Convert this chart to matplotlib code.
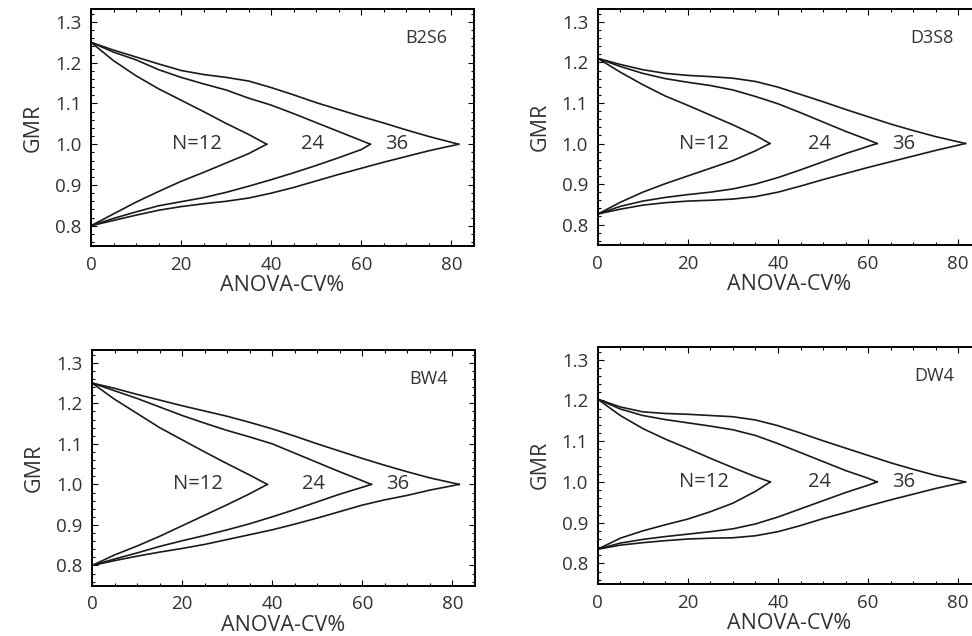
import numpy as np
import matplotlib.pyplot as plt
from matplotlib.ticker import MultipleLocator

# ===========================
# Datos (CV%, GMR) por panel y tamaño N
# ===========================
n_labels = ["N=12", "24", "36"]

# B2S6
b2s6_cv = [[0, 5, 10, 15, 20, 25, 30, 35, 39.0],
           [0, 5, 10, 15, 20, 25, 30, 35, 40, 45, 50, 55, 60, 62.0],
           [0, 5, 10, 15, 20, 25, 30, 35, 40, 45, 50, 55, 60, 65, 70, 75, 81.6]]
b2s6_up = [[1.25, 1.205, 1.168, 1.136, 1.108, 1.080, 1.051, 1.024, 1.0],
           [1.25, 1.226, 1.207, 1.183, 1.164, 1.148, 1.133, 1.113, 1.096, 1.075, 1.053, 1.031, 1.009, 1.0],
           [1.25, 1.231, 1.214, 1.197, 1.181, 1.171, 1.164, 1.155, 1.139, 1.121, 1.102, 1.085, 1.068, 1.052, 1.035, 1.019, 1.0]]
b2s6_lo = [[0.80, 0.829, 0.858, 0.884, 0.909, 0.931, 0.954, 0.977, 1.0],
           [0.80, 0.818, 0.834, 0.849, 0.859, 0.869, 0.882, 0.897, 0.913, 0.930, 0.948, 0.967, 0.987, 1.0],
           [0.80, 0.813, 0.826, 0.838, 0.847, 0.854, 0.860, 0.868, 0.880, 0.894, 0.910, 0.926, 0.941, 0.956, 0.970, 0.984, 1.0]]

# D3S8
d3s8_cv = [[0, 5, 10, 15, 20, 25, 30, 35, 38.2],
           [0, 5, 10, 15, 20, 25, 30, 35, 40, 45, 50, 55, 60, 62.0],
           [0, 5, 10, 15, 20, 25, 30, 35, 40, 45, 50, 55, 60, 65, 70, 75, 81.6]]
d3s8_up = [[1.21, 1.176, 1.145, 1.117, 1.094, 1.070, 1.046, 1.020, 1.0],
           [1.21, 1.190, 1.173, 1.160, 1.151, 1.143, 1.132, 1.116, 1.098, 1.076, 1.053, 1.030, 1.009, 1.0],
           [1.21, 1.195, 1.182, 1.173, 1.168, 1.165, 1.161, 1.153, 1.139, 1.121, 1.103, 1.084, 1.066, 1.048, 1.032, 1.017, 1.0]]
d3s8_lo = [[0.826, 0.855, 0.880, 0.901, 0.920, 0.939, 0.958, 0.982, 1.0],
           [0.826, 0.845, 0.858, 0.867, 0.874, 0.880, 0.888, 0.900, 0.916, 0.935, 0.955, 0.975, 0.993, 1.0],
           [0.826, 0.838, 0.848, 0.854, 0.858, 0.860, 0.863, 0.869, 0.880, 0.895, 0.911, 0.926, 0.941, 0.955, 0.969, 0.983, 1.0]]

# BW4
bw4_cv = [[0, 5, 10, 15, 20, 25, 30, 35, 38.9],
          [0, 5, 10, 15, 20, 25, 30, 35, 40, 45, 50, 55, 60, 62.0],
          [0, 5, 10, 15, 20, 25, 30, 35, 40, 45, 50, 55, 60, 65, 70, 75, 81.5]]
bw4_up = [[1.25, 1.210, 1.175, 1.140, 1.110, 1.080, 1.051, 1.023, 1.0],
          [1.25, 1.231, 1.212, 1.191, 1.170, 1.151, 1.133, 1.117, 1.100, 1.077, 1.054, 1.031, 1.009, 1.0],
          [1.25, 1.237, 1.222, 1.208, 1.194, 1.181, 1.168, 1.153, 1.137, 1.119, 1.100, 1.082, 1.064, 1.047, 1.031, 1.016, 1.0]]
bw4_lo = [[0.80, 0.826, 0.848, 0.872, 0.898, 0.924, 0.950, 0.977, 1.0],
          [0.80, 0.816, 0.831, 0.847, 0.861, 0.874, 0.888, 0.903, 0.920, 0.938, 0.957, 0.976, 0.993, 1.0],
          [0.80, 0.812, 0.823, 0.833, 0.842, 0.852, 0.864, 0.876, 0.888, 0.902, 0.917, 0.933, 0.949, 0.962, 0.973, 0.986, 1.0]]

# DW4
dw4_cv = [[0, 5, 10, 15, 20, 25, 30, 35, 38.3],
          [0, 5, 10, 15, 20, 25, 30, 35, 40, 45, 50, 55, 60, 62.0],
          [0, 5, 10, 15, 20, 25, 30, 35, 40, 45, 50, 55, 60, 65, 70, 75, 81.6]]
dw4_up = [[1.203, 1.163, 1.131, 1.105, 1.082, 1.058, 1.035, 1.013, 1.0],
          [1.203, 1.179, 1.163, 1.153, 1.145, 1.137, 1.128, 1.114, 1.094, 1.072, 1.050, 1.028, 1.009, 1.0],
          [1.203, 1.184, 1.172, 1.168, 1.166, 1.163, 1.160, 1.152, 1.138, 1.120, 1.101, 1.083, 1.065, 1.047, 1.031, 1.016, 1.0]]
dw4_lo = [[0.835, 0.862, 0.880, 0.895, 0.909, 0.927, 0.948, 0.977, 1.0],
          [0.835, 0.850, 0.859, 0.866, 0.872, 0.878, 0.885, 0.897, 0.914, 0.934, 0.954, 0.974, 0.992, 1.0],
          [0.835, 0.845, 0.851, 0.856, 0.860, 0.862, 0.863, 0.868, 0.878, 0.893, 0.910, 0.925, 0.941, 0.956, 0.970, 0.984, 1.0]]

panels = [
    ("B2S6", b2s6_cv, b2s6_up, b2s6_lo),
    ("D3S8", d3s8_cv, d3s8_up, d3s8_lo),
    ("BW4", bw4_cv, bw4_up, bw4_lo),
    ("DW4", dw4_cv, dw4_up, dw4_lo),
]

# posiciones de los ejes (fracciones de figura)
boxes = [
    [0.0936, 0.613, 0.394, 0.373],
    [0.615, 0.615, 0.394, 0.371],
    [0.0947, 0.079, 0.394, 0.371],
    [0.615, 0.082, 0.394, 0.373],
]

plt.rcParams["font.family"] = ["Open Sans", "DejaVu Sans"]
text_col = "#333333"

fig = plt.figure(figsize=(9.72, 6.36), dpi=100)

for (name, cvs, ups, los), box in zip(panels, boxes):
    ax = fig.add_axes(box)
    for cv, up, lo in zip(cvs, ups, los):
        ax.plot(cv, up, color="#1a1a1a", lw=1.2)
        ax.plot(cv, lo, color="#1a1a1a", lw=1.2)

    # etiquetas de N dentro de la figura
    ax.text(29, 1.0, n_labels[0], ha="right", va="center", fontsize=14.5, color=text_col)
    ax.text(49.2, 1.0, n_labels[1], ha="center", va="center", fontsize=14.5, color=text_col)
    ax.text(67.8, 1.0, n_labels[2], ha="center", va="center", fontsize=14.5, color=text_col)
    ax.text(0.93, 0.878, name, transform=ax.transAxes, ha="right", va="center",
            fontsize=13, color=text_col)

    ax.set_xlim(0, 85)
    ax.set_ylim(0.75, 1.332)
    ax.xaxis.set_major_locator(MultipleLocator(20))
    ax.xaxis.set_minor_locator(MultipleLocator(5))
    ax.yaxis.set_major_locator(MultipleLocator(0.1))
    ax.yaxis.set_minor_locator(MultipleLocator(0.02))
    ax.yaxis.set_major_formatter(plt.FormatStrFormatter("%.1f"))
    ax.tick_params(which="both", direction="in", top=True, right=True,
                   labelsize=13.5, labelcolor=text_col, width=0.8)
    ax.tick_params(which="major", length=4, pad=7)
    ax.tick_params(which="minor", length=2.5)
    for s in ax.spines.values():
        s.set_linewidth(1.4)
    ax.set_xlabel("ANOVA-CV%", fontsize=15.5, color=text_col, labelpad=1)
    ax.set_ylabel("GMR", fontsize=15.5, color=text_col, labelpad=8)

plt.savefig("out.png", dpi=100)
plt.close()
